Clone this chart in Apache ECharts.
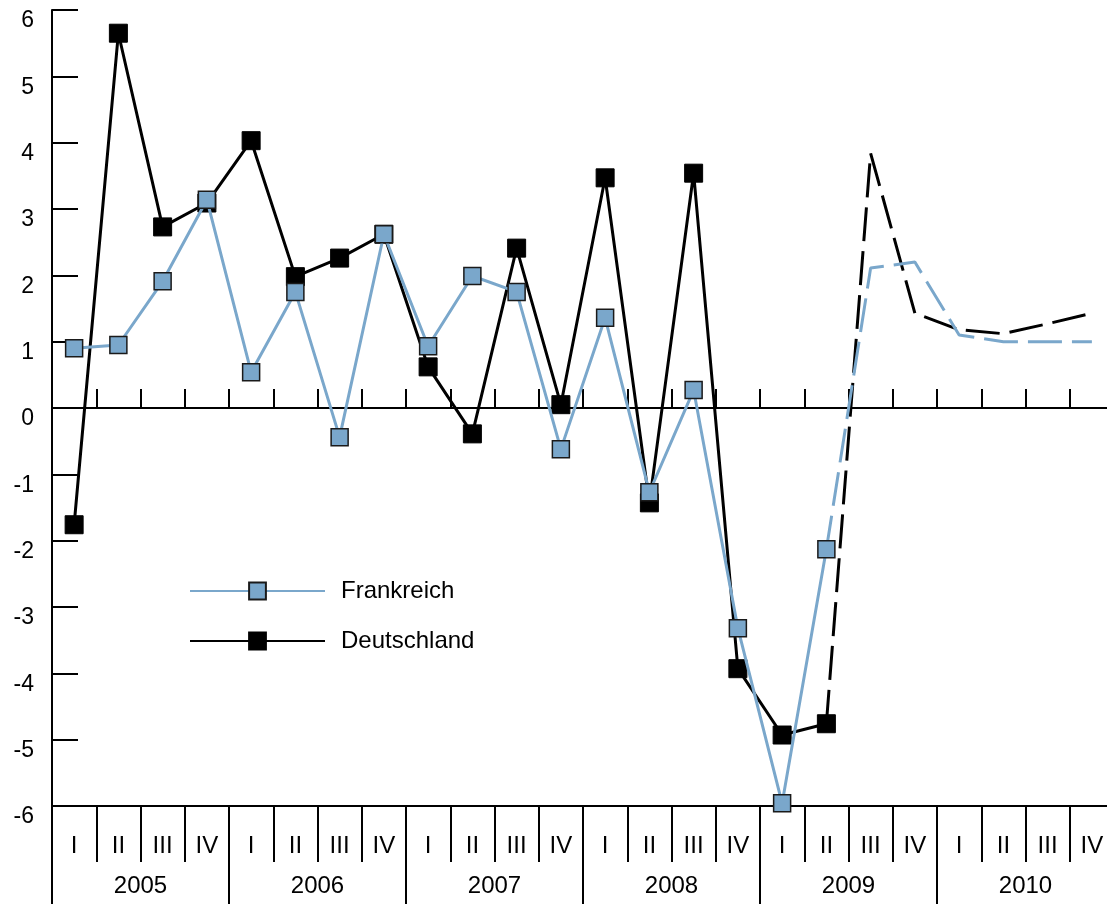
<!DOCTYPE html>
<html>
<head>
  <meta charset="utf-8" />
  <script src="https://cdn.jsdelivr.net/npm/echarts@6/dist/echarts.min.js"></script>
  <style>
    html, body { margin: 0; padding: 0; background: #fff; overflow: hidden; }
    /* das letzte Quartal ist im Original rechts angeschnitten */
    #main { width: 1114px; height: 904px; }
  </style>
  <title>Frankreich / Deutschland</title>
</head>
<body>
  <div id="main"></div>
  <script>
    // Quartale 2005 I bis 2010 IV
    var quarters = ['I', 'II', 'III', 'IV', 'I', 'II', 'III', 'IV', 'I', 'II', 'III', 'IV',
                    'I', 'II', 'III', 'IV', 'I', 'II', 'III', 'IV', 'I', 'II', 'III', 'IV'];
    var years = ['2005', '2006', '2007', '2008', '2009', '2010'];
    var yTicks = [-6, -5, -4, -3, -2, -1, 0, 1, 2, 3, 4, 5, 6];

    // Ist-Werte 2005 I bis 2009 II
    var frankreich = [0.90, 0.95, 1.91, 3.14, 0.54, 1.75, -0.44, 2.62, 0.93, 1.99, 1.75, -0.62,
                      1.36, -1.27, 0.27, -3.32, -5.96, -2.13];
    var deutschland = [-1.76, 5.65, 2.73, 3.09, 4.03, 1.98, 2.26, 2.62, 0.62, -0.39, 2.41, 0.05,
                       3.47, -1.43, 3.54, -3.93, -4.93, -4.76];

    // Prognose 2009 II bis 2010 IV (gestrichelt)
    var frankreichPrognose = [-2.13, 2.11, 2.20, 1.10, 1.00, 1.00, 1.00];
    var deutschlandPrognose = [-4.76, 3.84, 1.43, 1.18, 1.12, 1.27, 1.43];

    var blue = '#7aa7cb';
    var font = '"Liberation Sans", Arial, Helvetica, sans-serif';

    // Prognose an die richtige Position schieben
    function padForecast(arr) {
      var out = [];
      var start = quarters.length - arr.length;
      for (var i = 0; i < quarters.length; i++) {
        out.push(i < start ? null : arr[i - start]);
      }
      return out;
    }

    var myChart = echarts.init(document.getElementById('main'));

    var option = {
      backgroundColor: '#fff',
      animation: false,
      textStyle: { fontFamily: font, color: '#000' },
      grid: { left: 52, right: 0, top: 10, bottom: 98 },
      legend: {
        orient: 'vertical',
        left: 184,
        top: 574,
        itemWidth: 135,
        itemHeight: 21,
        itemGap: 26,
        data: ['Frankreich', 'Deutschland'],
        textStyle: { fontFamily: font, fontSize: 24, color: '#000', lineHeight: 24, padding: [0, 0, 0, 11] }
      },
      xAxis: [
        {
          // Nulllinie mit Quartalsstrichen
          type: 'category',
          data: quarters,
          boundaryGap: true,
          position: 'bottom',
          axisLine: { show: true, onZero: true, lineStyle: { color: '#000', width: 2 } },
          axisTick: { show: true, inside: true, length: 19, interval: 0, lineStyle: { color: '#000', width: 2 } },
          axisLabel: { show: false },
          splitLine: { show: false }
        },
        {
          type: 'category',
          data: quarters,
          boundaryGap: true,
          position: 'bottom',
          axisLine: { show: true, onZero: false, lineStyle: { color: '#000', width: 2 } },
          axisTick: { show: true, inside: false, length: 56, interval: 0, lineStyle: { color: '#000', width: 2 } },
          axisLabel: { interval: 0, margin: 28, fontSize: 24, color: '#000', fontFamily: font },
          splitLine: { show: false }
        },
        {
          type: 'category',
          data: years,
          boundaryGap: true,
          position: 'bottom',
          axisLine: { show: false, onZero: false },
          axisTick: { show: true, inside: false, length: 98, interval: 0, lineStyle: { color: '#000', width: 2 } },
          axisLabel: { interval: 0, margin: 68, fontSize: 24, color: '#000', fontFamily: font },
          splitLine: { show: false }
        }
      ],
      yAxis: {
        type: 'value',
        min: yTicks[0],
        max: yTicks[yTicks.length - 1],
        interval: 1,
        axisLine: { show: true, onZero: false, lineStyle: { color: '#000', width: 2 } },
        axisTick: { show: true, inside: true, length: 26, lineStyle: { color: '#000', width: 2 } },
        axisLabel: {
          margin: 18, fontSize: 23, color: '#000', fontFamily: font,
          verticalAlign: 'top', lineHeight: 22
        },
        splitLine: { show: false }
      },
      series: [
        {
          name: 'Deutschland Prognose',
          type: 'line',
          data: padForecast(deutschlandPrognose),
          showSymbol: false,
          symbol: 'none',
          lineStyle: { color: '#000', width: 3, type: [34, 10] },
          z: 2
        },
        {
          name: 'Frankreich Prognose',
          type: 'line',
          data: padForecast(frankreichPrognose),
          showSymbol: false,
          symbol: 'none',
          lineStyle: { color: blue, width: 3, type: [34, 10] },
          z: 2
        },
        {
          name: 'Deutschland',
          type: 'line',
          data: deutschland,
          symbol: 'rect',
          symbolSize: 18,
          color: '#000',
          itemStyle: { color: '#000', borderColor: '#000', borderWidth: 1 },
          lineStyle: { color: '#000', width: 3 },
          z: 3
        },
        {
          name: 'Frankreich',
          type: 'line',
          data: frankreich,
          symbol: 'rect',
          symbolSize: 17,
          color: blue,
          itemStyle: { color: blue, borderColor: '#1a1a1a', borderWidth: 1.5 },
          lineStyle: { color: blue, width: 3 },
          z: 4
        }
      ]
    };
    myChart.setOption(option);
  </script>
</body>
</html>
